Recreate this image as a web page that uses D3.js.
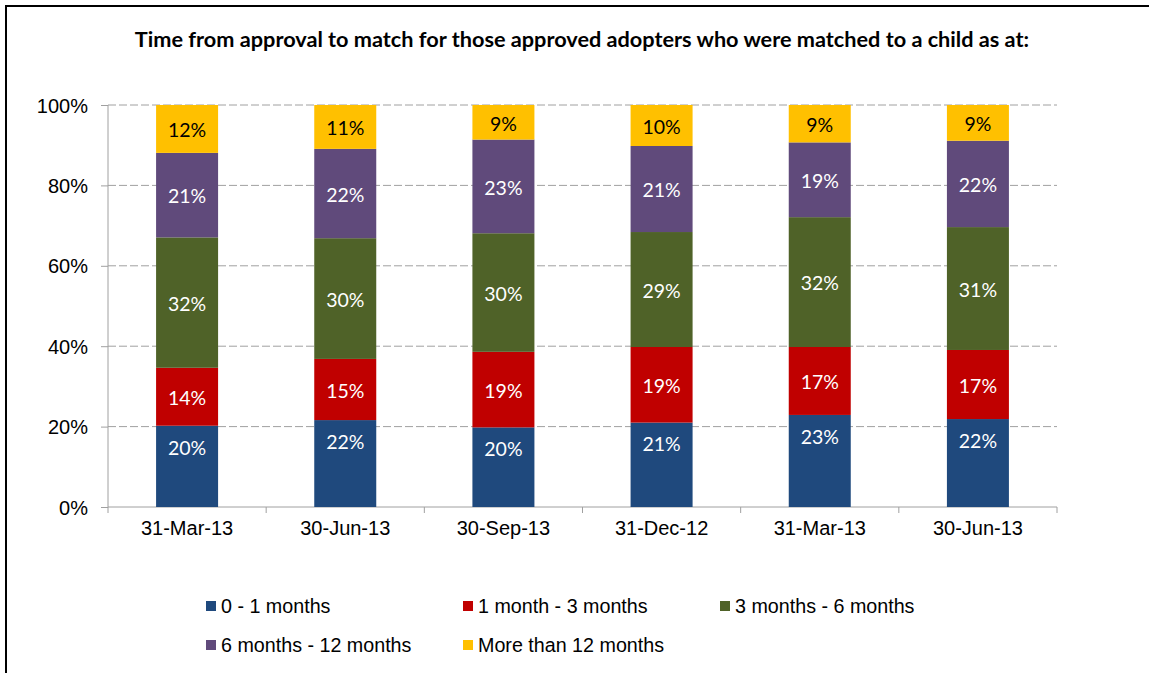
<!DOCTYPE html>
<html>
<head>
<meta charset="utf-8">
<script src="https://cdn.jsdelivr.net/npm/d3@7"></script>
<style>
  html, body { margin: 0; padding: 0; background: #fff; }
  svg { display: block; }
</style>
</head>
<body>
<svg id="chart" width="1149" height="673"></svg>
<script>
const title = "Time from approval to match for those approved adopters who were matched to a child as at:";
const categories = ["31-Mar-13", "30-Jun-13", "30-Sep-13", "31-Dec-12", "31-Mar-13", "30-Jun-13"];
const seriesNames = ["0 - 1 months", "1 month - 3 months", "3 months - 6 months", "6 months - 12 months", "More than 12 months"];
const seriesColors = ["#1F497D", "#C00000", "#4F6228", "#604A7B", "#FFC000"];
const s0to1 = [20.2, 21.6, 19.8, 21.0, 22.9, 21.9];
const s1to3 = [14.4, 15.2, 18.8, 18.8, 16.9, 17.2];
const s3to6 = [32.4, 30.0, 29.5, 28.6, 32.3, 30.6];
const s6to12 = [21.0, 22.2, 23.3, 21.4, 18.6, 21.5];
const sOver12 = [11.9, 10.9, 8.6, 10.2, 9.3, 8.9];
const yTicks = [0, 0.2, 0.4, 0.6, 0.8, 1.0];

const seriesValues = [s0to1, s1to3, s3to6, s6to12, sOver12];
const rows = categories.map((c, i) => {
  const r = { idx: i };
  seriesNames.forEach((n, k) => r[n] = seriesValues[k][i]);
  return r;
});

const svg = d3.select("#chart");
const plot = { left: 108, right: 1057, top: 105, bottom: 507 };

// frame (left and top edges)
svg.append("line").attr("x1", 6).attr("x2", 6).attr("y1", 5).attr("y2", 673)
  .attr("stroke", "#000").attr("stroke-width", 2);
svg.append("line").attr("x1", 5).attr("x2", 1149).attr("y1", 6).attr("y2", 6)
  .attr("stroke", "#000").attr("stroke-width", 2);

// title
svg.append("text").attr("x", 582).attr("y", 47).attr("text-anchor", "middle")
  .attr("font-family", "Lato, 'Open Sans', sans-serif").attr("font-weight", "bold")
  .attr("font-size", 21.7).attr("fill", "#000").text(title);

const x = d3.scaleBand().domain(d3.range(categories.length))
  .range([plot.left, plot.right]).paddingInner(0.608).paddingOuter(0.304);
const y = d3.scaleLinear().domain([0, 1]).range([plot.bottom, plot.top]);

// gridlines
const grid = svg.append("g");
grid.selectAll("line.g").data(yTicks.filter(t => t > 0)).join("line")
  .attr("x1", plot.left).attr("x2", plot.right)
  .attr("y1", d => y(d)).attr("y2", d => y(d))
  .attr("stroke", "#A0A0A0").attr("stroke-width", 1).attr("stroke-dasharray", "8,3");

// y axis
const yAxis = svg.append("g").attr("transform", `translate(${plot.left},0)`)
  .call(d3.axisLeft(y).tickValues(yTicks).tickFormat(d3.format(".0%")).tickSize(7).tickPadding(13));
yAxis.select(".domain").attr("stroke", "#A0A0A0").attr("d", `M0,${plot.top}V${plot.bottom}`);
yAxis.selectAll(".tick line").attr("stroke", "#A0A0A0");
yAxis.selectAll(".tick text").attr("font-family", "'Liberation Sans', Arial, sans-serif")
  .attr("font-size", 20).attr("fill", "#000").attr("dy", "0.35em");

// x axis
const xAxis = svg.append("g").attr("transform", `translate(0,${plot.bottom})`)
  .call(d3.axisBottom(x).tickFormat(i => categories[i]).tickSize(0).tickPadding(14));
xAxis.select(".domain").attr("stroke", "#A0A0A0").attr("d", `M${plot.left},0H${plot.right}`);
xAxis.selectAll(".tick text").attr("font-family", "'Liberation Sans', Arial, sans-serif")
  .attr("font-size", 20).attr("fill", "#000");
const bounds = d3.range(categories.length + 1).map(i => plot.left + i * x.step());
xAxis.selectAll("line.b").data(bounds).join("line").attr("class", "b")
  .attr("x1", d => d).attr("x2", d => d).attr("y1", 0).attr("y2", 6)
  .attr("stroke", "#A0A0A0");

// stacked bars
const stack = d3.stack().keys(seriesNames).offset(d3.stackOffsetExpand);
const layers = stack(rows);
const barG = svg.append("g");
layers.forEach((layer, k) => {
  const g = barG.append("g").attr("fill", seriesColors[k]);
  g.selectAll("rect").data(layer).join("rect")
    .attr("x", d => x(d.data.idx)).attr("width", x.bandwidth())
    .attr("y", d => y(d[1])).attr("height", d => y(d[0]) - y(d[1]));
  g.selectAll("text").data(layer).join("text")
    .attr("x", d => x(d.data.idx) + x.bandwidth() / 2)
    .attr("y", d => k === 0 ? y(d[1]) + 22 : (y(d[0]) + y(d[1])) / 2 + 1.5)
    .attr("dy", "0.35em").attr("text-anchor", "middle")
    .attr("font-family", "Lato, 'Open Sans', sans-serif").attr("font-size", 19.5)
    .attr("fill", k === 4 ? "#000" : "#fff")
    .text(d => Math.round(d.data[seriesNames[k]]) + "%");
});

// legend
const legendPos = [[206, 606], [463, 606], [720, 606], [206, 645], [463, 645]];
const leg = svg.append("g");
seriesNames.forEach((n, k) => {
  const [lx, ly] = legendPos[k];
  leg.append("rect").attr("x", lx).attr("y", ly - 5).attr("width", 10).attr("height", 10)
    .attr("fill", seriesColors[k]);
  leg.append("text").attr("x", lx + 15).attr("y", ly).attr("dy", "0.35em")
    .attr("font-family", "'Liberation Sans', Arial, sans-serif").attr("font-size", 19.7)
    .attr("fill", "#000").text(n);
});
</script>
</body>
</html>
